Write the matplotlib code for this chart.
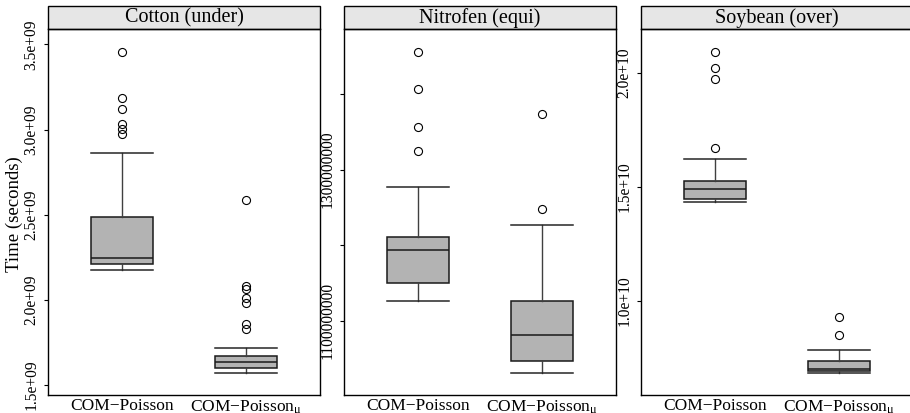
import matplotlib
matplotlib.use('Agg')
import matplotlib.pyplot as plt
from matplotlib.patches import Rectangle

plt.rcParams['font.family'] = ['Liberation Serif', 'DejaVu Serif']
plt.rcParams['mathtext.fontset'] = 'custom'
plt.rcParams['mathtext.rm'] = 'Liberation Serif'
plt.rcParams['mathtext.it'] = 'Liberation Serif:italic'

# Run time of the two samplers on each dataset
panels = ['Cotton (under)', 'Nitrofen (equi)', 'Soybean (over)']
methods = ['COM\u2212Poisson', 'COM\u2212Poisson$_\\mathrm{\\mu}$']

# five-number summaries, one row per dataset, one column per method
whislo = [[2.176e9, 1.571e9], [1.1256e9, 1.0311e9], [1.434e10, 0.6834e10]]
q1 = [[2.208e9, 1.602e9], [1.150e9, 1.0466e9], [1.4485e10, 0.6909e10]]
med = [[2.247e9, 1.634e9], [1.1931e9, 1.0815e9], [1.4894e10, 0.7010e10]]
q3 = [[2.488e9, 1.667e9], [1.2103e9, 1.1256e9], [1.5246e10, 0.7349e10]]
whishi = [[2.861e9, 1.718e9], [1.277e9, 1.2268e9], [1.6213e10, 0.7832e10]]
fliers = [
    [[3.457e9, 3.188e9, 3.120e9, 3.032e9, 3.002e9, 2.976e9],
     [2.586e9, 2.081e9, 2.061e9, 2.012e9, 1.979e9, 1.855e9, 1.831e9]],
    [[1.4559e9, 1.406e9, 1.357e9, 1.3248e9],
     [1.3738e9, 1.2483e9]],
    [[2.0935e10, 2.0214e10, 1.973e10, 1.6727e10],
     [0.9266e10, 0.8492e10]],
]

yticks = [[1.5e9, 2.0e9, 2.5e9, 3.0e9, 3.5e9],
          [1.1e9, 1.2e9, 1.3e9, 1.4e9],
          [1.0e10, 1.5e10, 2.0e10]]
ytick_labels = [['1.5e+09', '2.0e+09', '2.5e+09', '3.0e+09', '3.5e+09'],
                ['1100000000', '', '1300000000', ''],
                ['1.0e+10', '1.5e+10', '2.0e+10']]

W, H = 910, 413
fig = plt.figure(figsize=(W / 100, H / 100), dpi=100)

panel_left = [48, 344, 641]
panel_w = 272
top, bottom = 29.3, 395.3
strip_h = 23.3

for i, name in enumerate(panels):
    ax = fig.add_axes([panel_left[i] / W, (H - bottom) / H,
                       panel_w / W, (bottom - top) / H])
    stats = []
    for j in range(2):
        stats.append(dict(whislo=whislo[i][j], q1=q1[i][j], med=med[i][j],
                          q3=q3[i][j], whishi=whishi[i][j], fliers=fliers[i][j]))
    ax.bxp(stats, positions=[1, 2], widths=0.5, capwidths=0.5,
           patch_artist=True, showcaps=True,
           boxprops=dict(facecolor='#b3b3b3', edgecolor='#1a1a1a', linewidth=1.1),
           medianprops=dict(color='#1a1a1a', linewidth=1.1),
           whiskerprops=dict(color='#404040', linewidth=1.0, linestyle='-'),
           capprops=dict(color='#262626', linewidth=1.1),
           flierprops=dict(marker='o', markerfacecolor='none',
                           markeredgecolor='black', markersize=5.8,
                           markeredgewidth=0.8))

    # lattice-style 7% padding around the data range
    vals = [v for row in (whislo[i], whishi[i]) for v in row]
    for f in fliers[i]:
        vals += f
    lo, hi = min(vals), max(vals)
    pad = 0.07 * (hi - lo)
    ax.set_ylim(lo - pad, hi + pad)
    ax.set_xlim(0.4, 2.6)

    ax.set_xticks([1, 2])
    ax.set_xticklabels(methods, fontsize=12.5)
    ax.tick_params(axis='x', length=0, pad=2)
    ax.set_yticks(yticks[i])
    ax.set_yticklabels(ytick_labels[i], fontsize=11.2, rotation=90, va='center')
    ax.tick_params(axis='y', length=3.1, width=0.8, pad=3)

    for sp in ax.spines.values():
        sp.set_linewidth(1.0)
        sp.set_color('black')

    # strip with the dataset name
    sh = strip_h / (bottom - top)
    ax.add_patch(Rectangle((0, 1), 1, sh, transform=ax.transAxes,
                           facecolor='#e6e6e6', edgecolor='black',
                           linewidth=1.0, clip_on=False))
    ax.text(0.5, 1 + sh / 2, name, transform=ax.transAxes,
            ha='center', va='center', fontsize=14.5)

fig.text(14 / W, 1 - 214 / H, 'Time (seconds)', rotation=90,
         ha='center', va='center', fontsize=13.5)

fig.savefig('out.png', dpi=100)
